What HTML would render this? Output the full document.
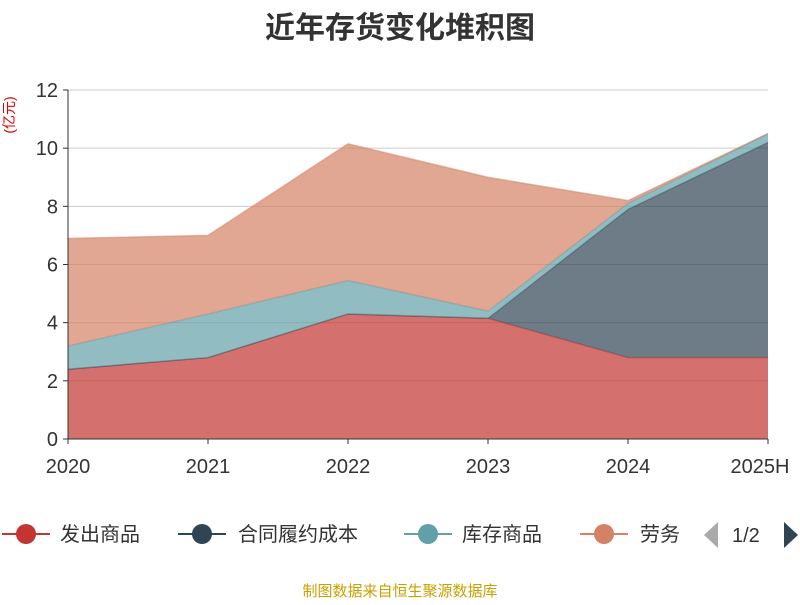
<!DOCTYPE html>
<html><head><meta charset="utf-8"><style>
body{margin:0;background:#fff;font-family:"Liberation Sans","Noto Sans CJK SC",sans-serif}
</style></head><body>
<svg width="800" height="600" xmlns="http://www.w3.org/2000/svg">
<text x="400" y="38" text-anchor="middle" font-size="30" font-weight="bold" fill="#333" font-family="Liberation Sans, Noto Sans CJK SC, sans-serif">近年存货变化堆积图</text>
<text transform="translate(14,115) rotate(-90)" text-anchor="middle" font-size="14" fill="#d00" font-family="Liberation Sans, Noto Sans CJK SC, sans-serif">(亿元)</text>
<g id="grid"></g><g id="areas"></g><g id="axes"></g>
<g font-size="20" fill="#333" font-family="Liberation Sans, Noto Sans CJK SC, sans-serif">
<g><line x1="2" y1="534" x2="50" y2="534" stroke="#c23531" stroke-width="2"/><circle cx="26" cy="534" r="10" fill="#c23531"/><text x="60" y="541">发出商品</text></g>
<g><line x1="178" y1="534" x2="226" y2="534" stroke="#2f4554" stroke-width="2"/><circle cx="202" cy="534" r="10" fill="#2f4554"/><text x="238" y="541">合同履约成本</text></g>
<g><line x1="404" y1="534" x2="452" y2="534" stroke="#61a0a8" stroke-width="2"/><circle cx="428" cy="534" r="10" fill="#61a0a8"/><text x="462" y="541">库存商品</text></g>
<g><line x1="580" y1="534" x2="628" y2="534" stroke="#d48265" stroke-width="2"/><circle cx="604" cy="534" r="10" fill="#d48265"/><text x="640" y="541">劳务</text></g>
<rect x="680" y="515" width="22" height="40" fill="#fff"/>
<polygon points="718,522 718,548 704,535" fill="#aaa"/>
<text x="732" y="542">1/2</text>
<polygon points="784,522 784,548 798,535" fill="#2f4554"/>
</g>
<text x="400" y="596" text-anchor="middle" font-size="15" fill="#c8a000" font-family="Liberation Sans, Noto Sans CJK SC, sans-serif">制图数据来自恒生聚源数据库</text>
</svg>
<script>
const categories=["2020","2021","2022","2023","2024","2025H"];
const fachu=[2.4,2.8,4.3,4.15,2.8,2.8];
const hetong=[0,0,0,0,5.1,7.4];
const kucun=[0.8,1.5,1.15,0.25,0.2,0.3];
const laowu=[3.7,2.7,4.7,4.6,0.1,0];
const yTicks=[0,2,4,6,8,10,12];
const NS="http://www.w3.org/2000/svg";
const x0=68,x1=768,y0=439,yTop=90,yMax=12;
const xs=i=>x0+i*(x1-x0)/(categories.length-1);
const ys=v=>y0-v*(y0-yTop)/yMax;
function mk(t,a,p){const e=document.createElementNS(NS,t);for(const k in a)e.setAttribute(k,a[k]);p.appendChild(e);return e;}
const grid=document.getElementById('grid'),axes=document.getElementById('axes'),areas=document.getElementById('areas');
yTicks.forEach(v=>{
 if(v>0){const l=mk('line',{x1:x0,x2:x1,y1:ys(v),y2:ys(v),stroke:'#ccc'},grid);
 
 }
 const t=mk('text',{x:x0-10,y:ys(v)+7,'text-anchor':'end','font-size':20,fill:'#333','font-family':'Liberation Sans, sans-serif'},axes);t.textContent=v;
 
 
 mk('line',{x1:x0-5,x2:x0,y1:ys(v),y2:ys(v),stroke:'#333'},axes);
});
mk('line',{x1:x0,x2:x0,y1:yTop,y2:y0,stroke:'#333'},axes);
mk('line',{x1:x0,x2:x1,y1:y0,y2:y0,stroke:'#333'},axes);
categories.forEach((c,i)=>{
 mk('line',{x1:xs(i),x2:xs(i),y1:y0,y2:y0+5,stroke:'#333'},axes);
 const t=mk('text',{x:i===categories.length-1?xs(i)-8:xs(i),y:y0+34,'text-anchor':'middle','font-size':20,fill:'#333','font-family':'Liberation Sans, sans-serif'},axes);t.textContent=c;
 
 
});
const series=[[fachu,'#c23531','area-fachu'],[hetong,'#2f4554','area-hetong'],[kucun,'#61a0a8','area-kucun'],[laowu,'#d48265','area-laowu']];
let base=categories.map(()=>0);
series.forEach(([d,col,name])=>{
 const top=base.map((b,i)=>b+d[i]);
 const up=top.map((v,i)=>xs(i)+','+ys(v));
 const dn=base.map((v,i)=>xs(i)+','+ys(v)).reverse();
 const p=mk('polygon',{points:up.concat(dn).join(' '),fill:col,'fill-opacity':0.7},areas);
 
 
 const l=mk('polyline',{points:up.join(' '),fill:'none',stroke:col,'stroke-opacity':0.5,'stroke-width':1.5},areas);
 
 
 base=top;
});
</script>
</body></html>
